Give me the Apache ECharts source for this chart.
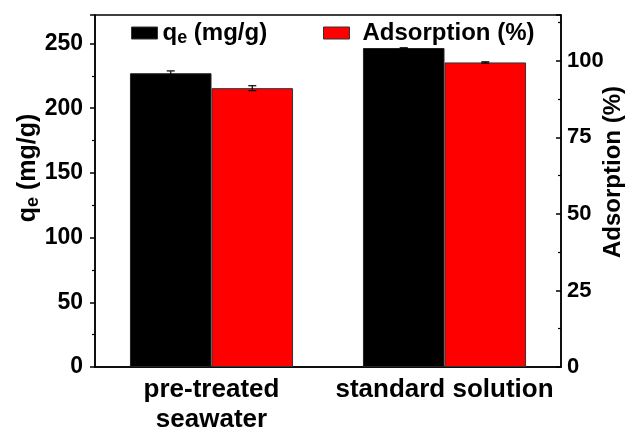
<!DOCTYPE html>
<html>
<head>
<meta charset="utf-8">
<script src="https://cdn.jsdelivr.net/npm/echarts@6/dist/echarts.min.js"></script>
<style>html,body{margin:0;padding:0;background:#fff}#c{width:628px;height:432px}</style>
</head>
<body>
<div id="c"></div>
<script>
const categories = ['pre-treated\nseawater', 'standard solution'];
const qeValues = [227, 246.5];
const qeErrors = [1.8, 0];
const adsValues = [91.1, 99.5];
const adsErrors = [0.8, 0.2];
const leftTicks = [0, 50, 100, 150, 200, 250];
const rightTicks = [0, 25, 50, 75, 100];

const FONT = 'Liberation Sans, Arial, sans-serif';
const chart = echarts.init(document.getElementById('c'));

function errorSeries(name, values, errors, yIdx, side) {
  return {
    name: name + '_err', type: 'custom', yAxisIndex: yIdx, z: 10, silent: true,
    data: values.map((v, i) => [i, v, errors[i]]),
    renderItem: function (params, api) {
      const i = api.value(0), v = api.value(1), e = api.value(2);
      const bw = api.size([1, 0])[0] * 0.7 / 2;
      const c = api.coord([i, v]);
      const x = c[0] + side * bw / 2;
      const top = api.coord([i, v + e])[1];
      const bot = api.coord([i, v - e])[1];
      const cap = 4;
      const st = { stroke: '#000', lineWidth: 1.2 };
      return { type: 'group', children: [
        { type: 'line', shape: { x1: x, y1: top, x2: x, y2: bot }, style: st },
        { type: 'line', shape: { x1: x - cap, y1: top, x2: x + cap, y2: top }, style: st },
        { type: 'line', shape: { x1: x - cap, y1: bot, x2: x + cap, y2: bot }, style: st }
      ]};
    }
  };
}

const richSub = {
  a: { fontSize: 24, fontWeight: 'bold', fontFamily: FONT, color: '#000' },
  s: { fontSize: 18, fontWeight: 'bold', fontFamily: FONT, color: '#000', padding: [10, 0, 0, 0] }
};

chart.setOption({
  animation: false,
  grid: { left: 95, right: 67, top: 15, bottom: 65, outerBoundsMode: 'none', containLabel: false,
    show: true, borderColor: '#000', borderWidth: 1.5, backgroundColor: 'transparent' },
  legend: [
    { data: ['qe'], left: 131, top: 21, padding: 0, itemWidth: 26, itemHeight: 12, itemGap: 6, icon: 'rect',
      itemStyle: { borderColor: '#333', borderWidth: 1 },
      formatter: () => '{a|q}{s|e}{a| (mg/g)}', textStyle: { rich: richSub } },
    { data: ['Adsorption (%)'], left: 323, top: 21, padding: 0, itemWidth: 26, itemHeight: 12, icon: 'rect',
      itemStyle: { borderColor: '#333', borderWidth: 1 },
      textStyle: { fontSize: 24, fontWeight: 'bold', fontFamily: FONT, color: '#000', padding: [0, 0, 0, 8] } }
  ],
  graphic: [
    { type: 'text', x: 28, y: 168, rotation: Math.PI / 2,
      style: { text: '{a|q}{s|e}{a| (mg/g)}', rich: {
        a: { fontSize: 25, fontWeight: 'bold', fontFamily: FONT, fill: '#000' },
        s: { fontSize: 18, fontWeight: 'bold', fontFamily: FONT, fill: '#000', padding: [10, 0, 0, 0] } },
        align: 'center', verticalAlign: 'middle' } },
    { type: 'text', x: 613, y: 172, rotation: Math.PI / 2,
      style: { text: 'Adsorption (%)', fontSize: 24, fontWeight: 'bold', fontFamily: FONT, fill: '#000',
        align: 'center', verticalAlign: 'middle' } }
  ],
  xAxis: {
    type: 'category', data: categories,
    axisLine: { lineStyle: { color: '#000', width: 1.5 } },
    axisTick: { show: false },
    axisLabel: { fontSize: 26, fontWeight: 'bold', fontFamily: FONT, color: '#000', lineHeight: 30, margin: 8, interval: 0 }
  },
  yAxis: [
    { type: 'value', min: 0, max: 272, interval: 50,
      axisLine: { show: true, lineStyle: { color: '#000', width: 1.5 } },
      axisTick: { show: true, length: 5, lineStyle: { color: '#000', width: 1.5 } },
      minorTick: { show: true, splitNumber: 2, length: 3, lineStyle: { color: '#000', width: 1.2 } },
      splitLine: { show: false },
      axisLabel: { fontSize: 23, fontWeight: 'bold', fontFamily: FONT, color: '#000', margin: 12,
        formatter: v => leftTicks.includes(v) ? String(v) : '' }
    },
    { type: 'value', min: 0, max: 115, interval: 25, position: 'right',
      axisLine: { show: true, lineStyle: { color: '#000', width: 1.5 } },
      axisTick: { show: true, inside: true, length: 5, lineStyle: { color: '#000', width: 1.5 } },
      minorTick: { show: true, splitNumber: 2, length: 3, lineStyle: { color: '#000', width: 1.2 } },
      splitLine: { show: false },
      axisLabel: { fontSize: 22, fontWeight: 'bold', fontFamily: FONT, color: '#000', margin: 6,
        formatter: v => rightTicks.includes(v) ? String(v) : '' }
    }
  ],
  series: [
    { name: 'qe', type: 'bar', yAxisIndex: 0, data: qeValues, barGap: '0%', barCategoryGap: '30%',
      itemStyle: { color: '#000', borderColor: '#222', borderWidth: 1 } },
    { name: 'Adsorption (%)', type: 'bar', yAxisIndex: 1, data: adsValues, barGap: '0%', barCategoryGap: '30%',
      itemStyle: { color: '#ff0000', borderColor: '#333', borderWidth: 1 } },
    errorSeries('qe', qeValues, qeErrors, 0, -1),
    errorSeries('ads', adsValues, adsErrors, 1, 1)
  ]
});
</script>
</body>
</html>
